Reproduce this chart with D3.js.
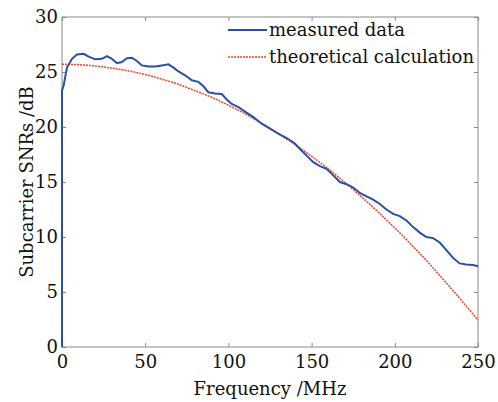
<!DOCTYPE html>
<html>
<head>
<meta charset="utf-8">
<script src="https://cdn.jsdelivr.net/npm/d3@7"></script>
<style>
  body { margin: 0; background: #fff; overflow: hidden; }
  text { font-family: "DejaVu Serif", serif; fill: #111; }
</style>
</head>
<body>
<div id="plot"></div>
<script>

// data

  var measuredFreq = [0, 0, 1, 3, 6, 9, 13, 16, 20, 24, 27, 30, 33, 36, 39, 42, 45, 48, 52, 56,
      60, 64, 67, 70, 74, 78, 82, 85, 88, 92, 96, 99, 102, 106, 110, 115, 120, 125, 130, 135,
      140, 143, 147, 151, 155, 159, 163, 167, 171, 175, 179, 183, 187, 191, 195, 199, 203, 207,
      211, 215, 219, 223, 227, 231, 235, 239, 243, 247, 250];
  var measuredSnr = [0, 23.3, 23.8, 25.4, 26.2, 26.6, 26.65, 26.4, 26.15, 26.2, 26.45, 26.2, 25.8,
      25.9, 26.25, 26.3, 26.0, 25.6, 25.5, 25.5, 25.6, 25.7, 25.4, 25.05, 24.7, 24.25, 24.1, 23.7,
      23.15, 23.05, 23.0, 22.5, 22.1, 21.8, 21.4, 20.9, 20.3, 19.85, 19.4, 19.0, 18.5, 18.0, 17.4,
      16.8, 16.45, 16.2, 15.6, 15.0, 14.8, 14.5, 14.0, 13.7, 13.4, 13.0, 12.5, 12.1, 11.9, 11.5,
      10.9, 10.4, 10.0, 9.9, 9.5, 8.8, 8.1, 7.6, 7.5, 7.45, 7.35];

  var theoryFreq = [0, 10, 20, 30, 40, 50, 60, 70, 80, 90, 100, 110, 120, 130, 140, 150, 160,
      170, 180, 190, 200, 210, 220, 230, 240, 250];
  var theorySnr = [25.7, 25.66, 25.55, 25.35, 25.1, 24.77, 24.35, 23.88, 23.3, 22.7, 21.98, 21.2,
      20.35, 19.4, 18.4, 17.33, 16.2, 14.95, 13.65, 12.27, 10.82, 9.3, 7.7, 6.0, 4.25, 2.45];

  var xTicks = [0, 50, 100, 150, 200, 250];
  var yTicks = [0, 5, 10, 15, 20, 25, 30];
  var seriesNames = ["measured data", "theoretical calculation"];

  var w = 498;
  var h = 402;
  var margin = {top: 17, right: 20, bottom: 55, left: 62};
  var innerWidth = w - margin.left - margin.right;
  var innerHeight = h - margin.top - margin.bottom;

  var xScale = d3.scaleLinear()
      .domain([0, 250])
      .range([0, innerWidth]);

  var yScale = d3.scaleLinear()
      .domain([0, 30])
      .range([innerHeight, 0]);

  var svg = d3.select("div#plot")
    .append("svg")
      .attr("width", w)
      .attr("height", h)
      .style("display", "block");

  var g = svg.append("g")
      .attr("transform", `translate(${margin.left}, ${margin.top})`);

// axes, MATLAB style box with inward ticks

  var axisColor = "#8a8a8a";

  function styleAxis(sel, hideText) {
    sel.select(".domain").remove();
    sel.selectAll(".tick line").attr("stroke", axisColor);
    sel.selectAll(".tick text")
        .style("font-size", "18px")
        .attr("fill", "#111");
    if (hideText) sel.selectAll(".tick text").remove();
  }

  g.append("g")
      .attr("transform", `translate(0, ${innerHeight})`)
      .call(d3.axisBottom(xScale).tickValues(xTicks).tickSizeInner(-4).tickSizeOuter(0).tickPadding(8))
      .call(styleAxis, false);

  g.append("g")
      .call(d3.axisTop(xScale).tickValues(xTicks).tickSizeInner(-4).tickSizeOuter(0))
      .call(styleAxis, true);

  g.append("g")
      .call(d3.axisLeft(yScale).tickValues(yTicks).tickSizeInner(-4).tickSizeOuter(0).tickPadding(4))
      .call(styleAxis, false);

  g.append("g")
      .attr("transform", `translate(${innerWidth}, 0)`)
      .call(d3.axisRight(yScale).tickValues(yTicks).tickSizeInner(-4).tickSizeOuter(0))
      .call(styleAxis, true);

  g.append("rect")
      .attr("width", innerWidth)
      .attr("height", innerHeight)
      .attr("fill", "none")
      .attr("stroke", axisColor)
      .attr("stroke-width", 1);

// lines

  var line = d3.line()
      .x(d => xScale(d[0]))
      .y(d => yScale(d[1]));

  var theory = d3.zip(theoryFreq, theorySnr);
  var measured = d3.zip(measuredFreq, measuredSnr);

  g.append("path")
      .datum(theory)
      .attr("d", d3.line().curve(d3.curveMonotoneX).x(d => xScale(d[0])).y(d => yScale(d[1])))
      .attr("fill", "none")
      .attr("stroke", "#f4412a")
      .attr("stroke-width", 1.5)
      .attr("stroke-dasharray", "2,1");

  g.append("path")
      .datum(measured)
      .attr("d", line)
      .attr("fill", "none")
      .attr("stroke", "#2a4fa6")
      .attr("stroke-width", 2);

// legend

  var legend = g.append("g")
      .attr("transform", "translate(166, 0)");

  var legendColors = ["#2a4fa6", "#f4412a"];

  seriesNames.forEach(function(name, i) {
    var y = 13 + i * 27;
    legend.append("line")
        .attr("x1", 0).attr("x2", 39)
        .attr("y1", y).attr("y2", y)
        .attr("stroke", legendColors[i])
        .attr("stroke-width", i == 0 ? 2 : 1.5)
        .attr("stroke-dasharray", i == 0 ? null : "2,1");
    legend.append("text")
        .attr("x", 41)
        .attr("y", y)
        .attr("dy", "0.32em")
        .style("font-size", "18px")
        .text(name);
  });

// axis labels

  svg.append("text")
      .attr("x", margin.left + innerWidth / 2)
      .attr("y", 395)
      .attr("text-anchor", "middle")
      .style("font-size", "18px")
      .text("Frequency /MHz");

  svg.append("text")
      .attr("transform", `translate(33, ${margin.top + innerHeight / 2}) rotate(-90)`)
      .attr("text-anchor", "middle")
      .style("font-size", "18px")
      .text("Subcarrier SNRs /dB");

</script>
</body>
</html>
